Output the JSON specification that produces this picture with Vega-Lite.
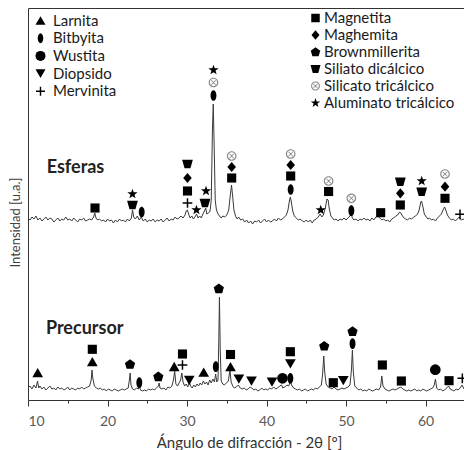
{
  "$schema": "https://vega.github.io/schema/vega-lite/v6.json",
  "autosize": {"type": "none"},
  "width": 436,
  "height": 392,
  "padding": {"left": 28, "top": 8, "right": 0, "bottom": 50},
  "background": "white",
  "config": {"view": {"stroke": null}, "font": "Lato"},
  "datasets": {
    "trace": [
      {"s":"E","a":10.0,"i":182},{"s":"E","a":10.25,"i":180},{"s":"E","a":10.5,"i":183},{"s":"E","a":10.75,"i":181},{"s":"E","a":11.0,"i":184},{"s":"E","a":11.25,"i":180},{"s":"E","a":11.5,"i":182},{"s":"E","a":11.75,"i":179},{"s":"E","a":12.0,"i":181},{"s":"E","a":12.25,"i":183},{"s":"E","a":12.5,"i":180},{"s":"E","a":12.75,"i":182},{"s":"E","a":13.0,"i":181},{"s":"E","a":13.25,"i":178},{"s":"E","a":13.5,"i":180},{"s":"E","a":13.75,"i":182},{"s":"E","a":14.0,"i":179},{"s":"E","a":14.25,"i":181},{"s":"E","a":14.5,"i":180},{"s":"E","a":14.75,"i":183},{"s":"E","a":15.0,"i":180},{"s":"E","a":15.25,"i":181},{"s":"E","a":15.5,"i":179},{"s":"E","a":15.75,"i":182},{"s":"E","a":16.0,"i":180},{"s":"E","a":16.25,"i":178},{"s":"E","a":16.5,"i":181},{"s":"E","a":16.75,"i":180},{"s":"E","a":17.0,"i":182},{"s":"E","a":17.25,"i":179},{"s":"E","a":17.5,"i":180},{"s":"E","a":17.75,"i":181},{"s":"E","a":18.0,"i":180},{"s":"E","a":18.25,"i":183},{"s":"E","a":18.4,"i":187},{"s":"E","a":18.55,"i":182},{"s":"E","a":18.75,"i":180},{"s":"E","a":19.0,"i":181},{"s":"E","a":19.25,"i":179},{"s":"E","a":19.5,"i":180},{"s":"E","a":19.75,"i":178},{"s":"E","a":20.0,"i":181},{"s":"E","a":20.25,"i":179},{"s":"E","a":20.5,"i":180},{"s":"E","a":20.75,"i":177},{"s":"E","a":21.0,"i":180},{"s":"E","a":21.25,"i":178},{"s":"E","a":21.5,"i":181},{"s":"E","a":21.75,"i":179},{"s":"E","a":22.0,"i":180},{"s":"E","a":22.25,"i":178},{"s":"E","a":22.5,"i":181},{"s":"E","a":22.75,"i":179},{"s":"E","a":23.0,"i":182},{"s":"E","a":23.15,"i":190},{"s":"E","a":23.3,"i":183},{"s":"E","a":23.5,"i":181},{"s":"E","a":23.75,"i":184},{"s":"E","a":24.0,"i":180},{"s":"E","a":24.25,"i":183},{"s":"E","a":24.5,"i":179},{"s":"E","a":24.75,"i":181},{"s":"E","a":25.0,"i":178},{"s":"E","a":25.25,"i":180},{"s":"E","a":25.5,"i":179},{"s":"E","a":25.75,"i":181},{"s":"E","a":26.0,"i":178},{"s":"E","a":26.25,"i":180},{"s":"E","a":26.5,"i":179},{"s":"E","a":26.75,"i":181},{"s":"E","a":27.0,"i":178},{"s":"E","a":27.25,"i":180},{"s":"E","a":27.5,"i":182},{"s":"E","a":27.75,"i":179},{"s":"E","a":28.0,"i":181},{"s":"E","a":28.25,"i":180},{"s":"E","a":28.5,"i":183},{"s":"E","a":28.75,"i":181},{"s":"E","a":29.0,"i":182},{"s":"E","a":29.25,"i":184},{"s":"E","a":29.5,"i":182},{"s":"E","a":29.75,"i":185},{"s":"E","a":29.9,"i":189},{"s":"E","a":30.05,"i":190},{"s":"E","a":30.2,"i":186},{"s":"E","a":30.4,"i":182},{"s":"E","a":30.6,"i":184},{"s":"E","a":30.8,"i":181},{"s":"E","a":31.0,"i":183},{"s":"E","a":31.2,"i":186},{"s":"E","a":31.4,"i":182},{"s":"E","a":31.6,"i":184},{"s":"E","a":31.8,"i":182},{"s":"E","a":32.0,"i":186},{"s":"E","a":32.2,"i":189},{"s":"E","a":32.35,"i":192},{"s":"E","a":32.5,"i":186},{"s":"E","a":32.7,"i":187},{"s":"E","a":32.9,"i":189},{"s":"E","a":33.05,"i":200},{"s":"E","a":33.2,"i":270},{"s":"E","a":33.3,"i":296},{"s":"E","a":33.4,"i":260},{"s":"E","a":33.55,"i":200},{"s":"E","a":33.7,"i":190},{"s":"E","a":33.9,"i":186},{"s":"E","a":34.1,"i":184},{"s":"E","a":34.3,"i":182},{"s":"E","a":34.5,"i":184},{"s":"E","a":34.75,"i":183},{"s":"E","a":35.0,"i":185},{"s":"E","a":35.25,"i":190},{"s":"E","a":35.45,"i":205},{"s":"E","a":35.6,"i":215},{"s":"E","a":35.75,"i":203},{"s":"E","a":35.9,"i":190},{"s":"E","a":36.1,"i":184},{"s":"E","a":36.3,"i":181},{"s":"E","a":36.5,"i":183},{"s":"E","a":36.75,"i":180},{"s":"E","a":37.0,"i":181},{"s":"E","a":37.25,"i":178},{"s":"E","a":37.5,"i":180},{"s":"E","a":37.75,"i":177},{"s":"E","a":38.0,"i":179},{"s":"E","a":38.25,"i":176},{"s":"E","a":38.5,"i":179},{"s":"E","a":38.75,"i":178},{"s":"E","a":39.0,"i":180},{"s":"E","a":39.25,"i":177},{"s":"E","a":39.5,"i":179},{"s":"E","a":39.75,"i":181},{"s":"E","a":40.0,"i":178},{"s":"E","a":40.25,"i":180},{"s":"E","a":40.5,"i":178},{"s":"E","a":40.75,"i":179},{"s":"E","a":41.0,"i":181},{"s":"E","a":41.25,"i":179},{"s":"E","a":41.5,"i":182},{"s":"E","a":41.75,"i":180},{"s":"E","a":42.0,"i":181},{"s":"E","a":42.25,"i":183},{"s":"E","a":42.5,"i":185},{"s":"E","a":42.7,"i":190},{"s":"E","a":42.9,"i":200},{"s":"E","a":43.0,"i":203},{"s":"E","a":43.1,"i":199},{"s":"E","a":43.3,"i":189},{"s":"E","a":43.5,"i":184},{"s":"E","a":43.75,"i":182},{"s":"E","a":44.0,"i":180},{"s":"E","a":44.25,"i":181},{"s":"E","a":44.5,"i":179},{"s":"E","a":44.75,"i":178},{"s":"E","a":45.0,"i":180},{"s":"E","a":45.25,"i":178},{"s":"E","a":45.5,"i":180},{"s":"E","a":45.75,"i":177},{"s":"E","a":46.0,"i":180},{"s":"E","a":46.25,"i":181},{"s":"E","a":46.5,"i":183},{"s":"E","a":46.75,"i":186},{"s":"E","a":46.95,"i":183},{"s":"E","a":47.15,"i":185},{"s":"E","a":47.4,"i":192},{"s":"E","a":47.6,"i":201},{"s":"E","a":47.75,"i":200},{"s":"E","a":47.9,"i":191},{"s":"E","a":48.1,"i":184},{"s":"E","a":48.3,"i":182},{"s":"E","a":48.5,"i":180},{"s":"E","a":48.75,"i":181},{"s":"E","a":49.0,"i":179},{"s":"E","a":49.25,"i":181},{"s":"E","a":49.5,"i":180},{"s":"E","a":49.75,"i":182},{"s":"E","a":50.0,"i":180},{"s":"E","a":50.25,"i":182},{"s":"E","a":50.5,"i":184},{"s":"E","a":50.65,"i":186},{"s":"E","a":50.8,"i":182},{"s":"E","a":51.0,"i":180},{"s":"E","a":51.25,"i":181},{"s":"E","a":51.5,"i":179},{"s":"E","a":51.75,"i":181},{"s":"E","a":52.0,"i":180},{"s":"E","a":52.25,"i":182},{"s":"E","a":52.5,"i":180},{"s":"E","a":52.75,"i":181},{"s":"E","a":53.0,"i":179},{"s":"E","a":53.25,"i":182},{"s":"E","a":53.5,"i":180},{"s":"E","a":53.75,"i":183},{"s":"E","a":54.0,"i":184},{"s":"E","a":54.25,"i":182},{"s":"E","a":54.5,"i":180},{"s":"E","a":54.75,"i":181},{"s":"E","a":55.0,"i":179},{"s":"E","a":55.25,"i":180},{"s":"E","a":55.5,"i":178},{"s":"E","a":55.75,"i":181},{"s":"E","a":56.0,"i":182},{"s":"E","a":56.25,"i":184},{"s":"E","a":56.5,"i":185},{"s":"E","a":56.75,"i":188},{"s":"E","a":56.9,"i":187},{"s":"E","a":57.1,"i":184},{"s":"E","a":57.3,"i":182},{"s":"E","a":57.5,"i":181},{"s":"E","a":57.75,"i":180},{"s":"E","a":58.0,"i":182},{"s":"E","a":58.25,"i":181},{"s":"E","a":58.5,"i":183},{"s":"E","a":58.75,"i":184},{"s":"E","a":59.0,"i":186},{"s":"E","a":59.2,"i":190},{"s":"E","a":59.4,"i":198},{"s":"E","a":59.5,"i":199},{"s":"E","a":59.65,"i":194},{"s":"E","a":59.85,"i":186},{"s":"E","a":60.1,"i":183},{"s":"E","a":60.3,"i":181},{"s":"E","a":60.5,"i":182},{"s":"E","a":60.75,"i":180},{"s":"E","a":61.0,"i":181},{"s":"E","a":61.25,"i":179},{"s":"E","a":61.5,"i":182},{"s":"E","a":61.75,"i":184},{"s":"E","a":62.0,"i":186},{"s":"E","a":62.2,"i":190},{"s":"E","a":62.4,"i":193},{"s":"E","a":62.55,"i":190},{"s":"E","a":62.75,"i":185},{"s":"E","a":63.0,"i":182},{"s":"E","a":63.25,"i":180},{"s":"E","a":63.5,"i":181},{"s":"E","a":63.75,"i":179},{"s":"E","a":64.0,"i":181},{"s":"E","a":64.25,"i":183},{"s":"E","a":64.5,"i":180},{"s":"E","a":64.84,"i":181},
      {"s":"P","a":10.0,"i":12},{"s":"P","a":10.25,"i":14},{"s":"P","a":10.5,"i":11},{"s":"P","a":10.75,"i":15},{"s":"P","a":11.0,"i":12},{"s":"P","a":11.2,"i":19},{"s":"P","a":11.35,"i":12},{"s":"P","a":11.5,"i":14},{"s":"P","a":11.75,"i":11},{"s":"P","a":12.0,"i":13},{"s":"P","a":12.25,"i":10},{"s":"P","a":12.5,"i":12},{"s":"P","a":12.75,"i":14},{"s":"P","a":13.0,"i":11},{"s":"P","a":13.25,"i":12},{"s":"P","a":13.5,"i":10},{"s":"P","a":13.75,"i":13},{"s":"P","a":14.0,"i":11},{"s":"P","a":14.25,"i":12},{"s":"P","a":14.5,"i":10},{"s":"P","a":14.75,"i":11},{"s":"P","a":15.0,"i":13},{"s":"P","a":15.25,"i":10},{"s":"P","a":15.5,"i":12},{"s":"P","a":15.75,"i":11},{"s":"P","a":16.0,"i":10},{"s":"P","a":16.25,"i":12},{"s":"P","a":16.5,"i":11},{"s":"P","a":16.75,"i":13},{"s":"P","a":17.0,"i":11},{"s":"P","a":17.25,"i":12},{"s":"P","a":17.5,"i":13},{"s":"P","a":17.75,"i":14},{"s":"P","a":17.95,"i":20},{"s":"P","a":18.05,"i":30},{"s":"P","a":18.15,"i":22},{"s":"P","a":18.35,"i":14},{"s":"P","a":18.6,"i":12},{"s":"P","a":18.85,"i":11},{"s":"P","a":19.1,"i":12},{"s":"P","a":19.35,"i":10},{"s":"P","a":19.6,"i":11},{"s":"P","a":19.85,"i":9},{"s":"P","a":20.1,"i":11},{"s":"P","a":20.35,"i":10},{"s":"P","a":20.6,"i":9},{"s":"P","a":20.85,"i":11},{"s":"P","a":21.1,"i":10},{"s":"P","a":21.35,"i":9},{"s":"P","a":21.6,"i":10},{"s":"P","a":21.85,"i":11},{"s":"P","a":22.1,"i":10},{"s":"P","a":22.35,"i":11},{"s":"P","a":22.6,"i":12},{"s":"P","a":22.75,"i":20},{"s":"P","a":22.85,"i":27},{"s":"P","a":22.95,"i":15},{"s":"P","a":23.15,"i":11},{"s":"P","a":23.4,"i":10},{"s":"P","a":23.65,"i":12},{"s":"P","a":23.9,"i":11},{"s":"P","a":24.0,"i":14},{"s":"P","a":24.15,"i":10},{"s":"P","a":24.4,"i":9},{"s":"P","a":24.65,"i":10},{"s":"P","a":24.9,"i":9},{"s":"P","a":25.15,"i":11},{"s":"P","a":25.4,"i":10},{"s":"P","a":25.65,"i":11},{"s":"P","a":25.9,"i":10},{"s":"P","a":26.15,"i":12},{"s":"P","a":26.4,"i":14},{"s":"P","a":26.5,"i":17},{"s":"P","a":26.6,"i":12},{"s":"P","a":26.85,"i":11},{"s":"P","a":27.1,"i":12},{"s":"P","a":27.35,"i":10},{"s":"P","a":27.6,"i":13},{"s":"P","a":27.85,"i":12},{"s":"P","a":28.1,"i":14},{"s":"P","a":28.3,"i":20},{"s":"P","a":28.45,"i":29},{"s":"P","a":28.6,"i":16},{"s":"P","a":28.8,"i":14},{"s":"P","a":29.0,"i":17},{"s":"P","a":29.2,"i":20},{"s":"P","a":29.35,"i":27},{"s":"P","a":29.5,"i":18},{"s":"P","a":29.7,"i":14},{"s":"P","a":29.9,"i":16},{"s":"P","a":30.1,"i":13},{"s":"P","a":30.3,"i":18},{"s":"P","a":30.45,"i":14},{"s":"P","a":30.65,"i":12},{"s":"P","a":30.85,"i":15},{"s":"P","a":31.05,"i":13},{"s":"P","a":31.25,"i":16},{"s":"P","a":31.45,"i":14},{"s":"P","a":31.65,"i":17},{"s":"P","a":31.85,"i":15},{"s":"P","a":32.05,"i":19},{"s":"P","a":32.25,"i":16},{"s":"P","a":32.45,"i":18},{"s":"P","a":32.65,"i":15},{"s":"P","a":32.85,"i":20},{"s":"P","a":33.05,"i":17},{"s":"P","a":33.25,"i":21},{"s":"P","a":33.45,"i":18},{"s":"P","a":33.6,"i":26},{"s":"P","a":33.75,"i":18},{"s":"P","a":33.9,"i":20},{"s":"P","a":34.0,"i":60},{"s":"P","a":34.08,"i":103},{"s":"P","a":34.18,"i":50},{"s":"P","a":34.3,"i":19},{"s":"P","a":34.5,"i":16},{"s":"P","a":34.7,"i":15},{"s":"P","a":34.95,"i":17},{"s":"P","a":35.2,"i":19},{"s":"P","a":35.4,"i":30},{"s":"P","a":35.55,"i":18},{"s":"P","a":35.75,"i":14},{"s":"P","a":35.95,"i":12},{"s":"P","a":36.2,"i":13},{"s":"P","a":36.45,"i":15},{"s":"P","a":36.7,"i":12},{"s":"P","a":36.95,"i":11},{"s":"P","a":37.2,"i":12},{"s":"P","a":37.45,"i":10},{"s":"P","a":37.7,"i":11},{"s":"P","a":37.95,"i":13},{"s":"P","a":38.15,"i":12},{"s":"P","a":38.4,"i":10},{"s":"P","a":38.65,"i":11},{"s":"P","a":38.9,"i":9},{"s":"P","a":39.15,"i":10},{"s":"P","a":39.4,"i":12},{"s":"P","a":39.65,"i":10},{"s":"P","a":39.9,"i":11},{"s":"P","a":40.15,"i":10},{"s":"P","a":40.4,"i":12},{"s":"P","a":40.65,"i":11},{"s":"P","a":40.9,"i":13},{"s":"P","a":41.15,"i":11},{"s":"P","a":41.4,"i":12},{"s":"P","a":41.65,"i":14},{"s":"P","a":41.9,"i":15},{"s":"P","a":42.05,"i":12},{"s":"P","a":42.3,"i":13},{"s":"P","a":42.55,"i":15},{"s":"P","a":42.8,"i":14},{"s":"P","a":43.0,"i":19},{"s":"P","a":43.15,"i":15},{"s":"P","a":43.4,"i":12},{"s":"P","a":43.65,"i":11},{"s":"P","a":43.9,"i":10},{"s":"P","a":44.15,"i":11},{"s":"P","a":44.4,"i":9},{"s":"P","a":44.65,"i":10},{"s":"P","a":44.9,"i":11},{"s":"P","a":45.15,"i":9},{"s":"P","a":45.4,"i":10},{"s":"P","a":45.65,"i":11},{"s":"P","a":45.9,"i":10},{"s":"P","a":46.15,"i":12},{"s":"P","a":46.4,"i":11},{"s":"P","a":46.65,"i":13},{"s":"P","a":46.9,"i":15},{"s":"P","a":47.05,"i":25},{"s":"P","a":47.2,"i":44},{"s":"P","a":47.32,"i":28},{"s":"P","a":47.5,"i":16},{"s":"P","a":47.75,"i":13},{"s":"P","a":48.0,"i":12},{"s":"P","a":48.25,"i":11},{"s":"P","a":48.5,"i":13},{"s":"P","a":48.75,"i":11},{"s":"P","a":49.0,"i":10},{"s":"P","a":49.25,"i":11},{"s":"P","a":49.5,"i":12},{"s":"P","a":49.75,"i":11},{"s":"P","a":50.0,"i":12},{"s":"P","a":50.25,"i":13},{"s":"P","a":50.5,"i":15},{"s":"P","a":50.68,"i":30},{"s":"P","a":50.8,"i":50},{"s":"P","a":50.92,"i":28},{"s":"P","a":51.1,"i":14},{"s":"P","a":51.35,"i":12},{"s":"P","a":51.6,"i":10},{"s":"P","a":51.85,"i":11},{"s":"P","a":52.1,"i":9},{"s":"P","a":52.35,"i":10},{"s":"P","a":52.6,"i":9},{"s":"P","a":52.85,"i":11},{"s":"P","a":53.1,"i":10},{"s":"P","a":53.35,"i":9},{"s":"P","a":53.6,"i":10},{"s":"P","a":53.85,"i":11},{"s":"P","a":54.1,"i":10},{"s":"P","a":54.35,"i":13},{"s":"P","a":54.5,"i":24},{"s":"P","a":54.65,"i":14},{"s":"P","a":54.9,"i":11},{"s":"P","a":55.15,"i":10},{"s":"P","a":55.4,"i":9},{"s":"P","a":55.65,"i":10},{"s":"P","a":55.9,"i":11},{"s":"P","a":56.15,"i":10},{"s":"P","a":56.4,"i":11},{"s":"P","a":56.65,"i":12},{"s":"P","a":56.9,"i":13},{"s":"P","a":57.15,"i":11},{"s":"P","a":57.4,"i":10},{"s":"P","a":57.65,"i":9},{"s":"P","a":57.9,"i":10},{"s":"P","a":58.15,"i":9},{"s":"P","a":58.4,"i":10},{"s":"P","a":58.65,"i":11},{"s":"P","a":58.9,"i":9},{"s":"P","a":59.15,"i":10},{"s":"P","a":59.4,"i":9},{"s":"P","a":59.65,"i":11},{"s":"P","a":59.9,"i":10},{"s":"P","a":60.15,"i":9},{"s":"P","a":60.4,"i":10},{"s":"P","a":60.65,"i":11},{"s":"P","a":60.9,"i":12},{"s":"P","a":61.1,"i":15},{"s":"P","a":61.25,"i":21},{"s":"P","a":61.4,"i":12},{"s":"P","a":61.65,"i":10},{"s":"P","a":61.9,"i":11},{"s":"P","a":62.15,"i":9},{"s":"P","a":62.4,"i":10},{"s":"P","a":62.65,"i":12},{"s":"P","a":62.9,"i":14},{"s":"P","a":63.1,"i":11},{"s":"P","a":63.35,"i":10},{"s":"P","a":63.6,"i":9},{"s":"P","a":63.85,"i":11},{"s":"P","a":64.1,"i":10},{"s":"P","a":64.35,"i":12},{"s":"P","a":64.6,"i":15},{"s":"P","a":64.84,"i":11}
    ],
    "markA": [
      {"m":"Bitbyita","a":24.3,"i":188},
      {"m":"Mervinita","a":30.06,"i":197},
      {"m":"Bitbyita","a":33.33,"i":304.5},
      {"m":"Bitbyita","a":43.04,"i":210.5},
      {"m":"Bitbyita","a":50.67,"i":189.3},
      {"m":"Mervinita","a":64.34,"i":185.7},
      {"m":"Larnita","a":11.22,"i":27.3},
      {"m":"Larnita","a":18.09,"i":38.3},
      {"m":"Bitbyita","a":24.0,"i":17.3},
      {"m":"Larnita","a":28.39,"i":33.5},
      {"m":"Mervinita","a":29.43,"i":35},
      {"m":"Diopsido","a":30.28,"i":19.7},
      {"m":"Larnita","a":32.1,"i":27.8},
      {"m":"Bitbyita","a":33.62,"i":33.3},
      {"m":"Larnita","a":35.47,"i":33.3},
      {"m":"Diopsido","a":36.52,"i":20.8},
      {"m":"Diopsido","a":38.11,"i":18.8},
      {"m":"Diopsido","a":40.69,"i":17.8},
      {"m":"Wustita","a":42.01,"i":21.7},
      {"m":"Bitbyita","a":43.0,"i":21.7},
      {"m":"Diopsido","a":43.0,"i":36.2},
      {"m":"Diopsido","a":49.66,"i":19.3},
      {"m":"Bitbyita","a":50.82,"i":56.3},
      {"m":"Wustita","a":61.23,"i":30.3},
      {"m":"Mervinita","a":64.63,"i":21.7}
    ],
    "markB": [
      {"m":"Magnetita","a":18.43,"i":192},
      {"m":"Aluminato tricálcico","a":23.14,"i":206},
      {"m":"Siliato dicálcico","a":23.14,"i":195},
      {"m":"Siliato dicálcico","a":30.06,"i":236},
      {"m":"Maghemita","a":30.06,"i":222},
      {"m":"Magnetita","a":30.06,"i":209},
      {"m":"Aluminato tricálcico","a":31.19,"i":190},
      {"m":"Aluminato tricálcico","a":32.39,"i":209},
      {"m":"Siliato dicálcico","a":32.26,"i":197},
      {"m":"Silicato tricálcico","a":33.33,"i":317.5},
      {"m":"Aluminato tricálcico","a":33.33,"i":330},
      {"m":"Silicato tricálcico","a":35.62,"i":244},
      {"m":"Maghemita","a":35.62,"i":233},
      {"m":"Magnetita","a":35.62,"i":222},
      {"m":"Silicato tricálcico","a":43.04,"i":246},
      {"m":"Maghemita","a":43.04,"i":235},
      {"m":"Magnetita","a":43.04,"i":224},
      {"m":"Aluminato tricálcico","a":46.82,"i":190},
      {"m":"Silicato tricálcico","a":47.81,"i":219},
      {"m":"Magnetita","a":47.81,"i":208.5},
      {"m":"Silicato tricálcico","a":50.67,"i":201.7},
      {"m":"Magnetita","a":54.36,"i":187.3},
      {"m":"Siliato dicálcico","a":56.83,"i":218.3},
      {"m":"Maghemita","a":56.83,"i":206.7},
      {"m":"Magnetita","a":56.83,"i":195},
      {"m":"Aluminato tricálcico","a":59.52,"i":219},
      {"m":"Siliato dicálcico","a":59.52,"i":208.3},
      {"m":"Silicato tricálcico","a":62.45,"i":226},
      {"m":"Maghemita","a":62.45,"i":213.3},
      {"m":"Magnetita","a":62.45,"i":201.7},
      {"m":"Magnetita","a":18.09,"i":50.7},
      {"m":"Brownmillerita","a":22.83,"i":35.7},
      {"m":"Brownmillerita","a":26.39,"i":23.3},
      {"m":"Magnetita","a":29.43,"i":46},
      {"m":"Brownmillerita","a":34.0,"i":111.3},
      {"m":"Magnetita","a":35.47,"i":45.5},
      {"m":"Magnetita","a":43.0,"i":48.3},
      {"m":"Brownmillerita","a":47.26,"i":54},
      {"m":"Magnetita","a":48.4,"i":17.3},
      {"m":"Brownmillerita","a":50.82,"i":68.6},
      {"m":"Magnetita","a":54.57,"i":35},
      {"m":"Magnetita","a":56.96,"i":19},
      {"m":"Magnetita","a":62.96,"i":19.3}
    ],
    "labels": [
      {"t":"Esferas","a":12.35,"i":232},
      {"t":"Precursor","a":12.25,"i":70.8}
    ]
  },
  "layer": [
    {
      "data": {"name": "trace"},
      "mark": {"type": "line", "color": "#3a3a3a", "strokeWidth": 1, "interpolate": "linear"},
      "encoding": {
        "x": {"field": "a", "type": "quantitative", "scale": {"domain": [10, 64.84], "nice": false, "zero": false},
          "axis": {"orient": "bottom", "values": [10, 20, 30, 40, 50, 60], "grid": false, "tickSize": 6, "tickColor": "#333", "domainColor": "#333", "labelFontSize": 14, "labelColor": "#595959", "labelPadding": 8, "labelFont": "Lato", "title": "Ángulo de difracción - 2θ [°]", "titleFont": "Lato", "titleFontSize": 15, "titleFontWeight": "normal", "titleColor": "#333", "titleBaseline": "middle", "titleY": 42, "titleX": 221}},
        "y": {"field": "i", "type": "quantitative", "scale": {"domain": [0, 392], "nice": false, "zero": false},
          "axis": {"title": "Intensidad [u.a.]", "titleFont": "Lato", "titleFontSize": 13, "titleFontWeight": "normal", "titleColor": "#404040", "titleBaseline": "middle", "titleX": -13, "titleY": 214, "labels": false, "ticks": false, "grid": false, "domainColor": "#333"}},
        "detail": {"field": "s"}
      }
    },
    {
      "data": {"name": "markA"},
      "mark": {"type": "point", "filled": true, "size": 115, "opacity": 1},
      "encoding": {
        "x": {"field": "a", "type": "quantitative", "axis": {"orient": "bottom", "values": [15, 25, 35, 45, 55], "labels": false, "domain": false, "grid": false, "tickSize": 3, "tickColor": "#333", "title": null}},
        "y": {"field": "i", "type": "quantitative", "axis": {"title": "Intensidad [u.a.]", "titleFont": "Lato", "titleFontSize": 13, "titleFontWeight": "normal", "titleColor": "#404040", "titleBaseline": "middle", "titleX": -13, "titleY": 214, "labels": false, "ticks": false, "grid": false, "domainColor": "#333"}},
        "shape": {"field": "m", "type": "nominal",
          "scale": {"domain": ["Larnita", "Bitbyita", "Wustita", "Diopsido", "Mervinita"],
            "range": ["triangle-up", "M0,-1C0.3,-1 0.55,-0.55 0.55,0C0.55,0.55 0.3,1 0,1C-0.3,1 -0.55,0.55 -0.55,0C-0.55,-0.55 -0.3,-1 0,-1Z", "circle", "triangle-down", "M-0.14,-0.9H0.14V-0.14H0.9V0.14H0.14V0.9H-0.14V0.14H-0.9V-0.14H-0.14Z"]},
          "legend": {"title": null, "orient": "none", "legendX": 5, "legendY": 5, "padding": 0, "labelFont": "Lato", "labelFontSize": 15, "labelColor": "#1a1a1a", "symbolSize": 100, "rowPadding": 1.7, "labelOffset": 5, "symbolStrokeWidth": 0}},
        "fill": {"field": "m", "type": "nominal",
          "scale": {"domain": ["Larnita", "Bitbyita", "Wustita", "Diopsido", "Mervinita"], "range": ["#000", "#000", "#000", "#000", "#000"]},
          "legend": {"title": null, "orient": "none", "legendX": 5, "legendY": 5, "padding": 0, "labelFont": "Lato", "labelFontSize": 15, "labelColor": "#1a1a1a", "symbolSize": 100, "rowPadding": 1.7, "labelOffset": 5, "symbolStrokeWidth": 0}}
      }
    },
    {
      "data": {"name": "markB"},
      "mark": {"type": "point", "filled": true, "size": 115, "opacity": 1},
      "encoding": {
        "x": {"field": "a", "type": "quantitative", "axis": {"orient": "top", "labels": false, "ticks": false, "grid": false, "domainColor": "#333", "title": null}},
        "y": {"field": "i", "type": "quantitative", "axis": {"title": "Intensidad [u.a.]", "titleFont": "Lato", "titleFontSize": 13, "titleFontWeight": "normal", "titleColor": "#404040", "titleBaseline": "middle", "titleX": -13, "titleY": 214, "labels": false, "ticks": false, "grid": false, "domainColor": "#333"}},
        "shape": {"field": "m", "type": "nominal",
          "scale": {"domain": ["Magnetita", "Maghemita", "Brownmillerita", "Siliato dicálcico", "Silicato tricálcico", "Aluminato tricálcico"],
            "range": ["M-0.85,-0.85H0.85V0.85H-0.85Z", "M0,-0.95L0.8,0L0,0.95L-0.8,0Z", "M0,-0.95L0.95,-0.25L0.62,0.85L-0.62,0.85L-0.95,-0.25Z", "M-1,-0.8L1,-0.8L0.55,0.8L-0.55,0.8Z", "M0.9,0C0.9,0.5 0.5,0.9 0,0.9C-0.5,0.9 -0.9,0.5 -0.9,0C-0.9,-0.5 -0.5,-0.9 0,-0.9C0.5,-0.9 0.9,-0.5 0.9,0ZM0.68,0C0.68,-0.375 0.375,-0.68 0,-0.68C-0.375,-0.68 -0.68,-0.375 -0.68,0C-0.68,0.375 -0.375,0.68 0,0.68C0.375,0.68 0.68,0.375 0.68,0ZM-0.36,-0.47L0.47,0.36L0.36,0.47L-0.47,-0.36ZM0.47,-0.36L-0.36,0.47L-0.47,0.36L0.36,-0.47Z", "M0,-1L0.235,-0.324L0.951,-0.309L0.38,0.124L0.588,0.809L0,0.4L-0.588,0.809L-0.38,0.124L-0.951,-0.309L-0.235,-0.324Z"]},
          "legend": {"title": null, "orient": "none", "legendX": 280, "legendY": 2.5, "padding": 0, "labelFont": "Lato", "labelFontSize": 15, "labelColor": "#1a1a1a", "symbolSize": 100, "rowPadding": 1, "labelOffset": 1, "symbolStrokeWidth": 0}},
        "fill": {"field": "m", "type": "nominal",
          "scale": {"domain": ["Magnetita", "Maghemita", "Brownmillerita", "Siliato dicálcico", "Silicato tricálcico", "Aluminato tricálcico"], "range": ["#000", "#000", "#000", "#000", "#8a8a8a", "#000"]},
          "legend": {"title": null, "orient": "none", "legendX": 280, "legendY": 2.5, "padding": 0, "labelFont": "Lato", "labelFontSize": 15, "labelColor": "#1a1a1a", "symbolSize": 100, "rowPadding": 1, "labelOffset": 1, "symbolStrokeWidth": 0}}
      }
    },
    {
      "data": {"name": "labels"},
      "mark": {"type": "text", "font": "Lato", "fontSize": 18, "fontWeight": "bold", "align": "left", "baseline": "middle", "color": "#222"},
      "encoding": {
        "x": {"field": "a", "type": "quantitative", "axis": null},
        "y": {"field": "i", "type": "quantitative", "axis": {"title": "Intensidad [u.a.]", "titleFont": "Lato", "titleFontSize": 13, "titleFontWeight": "normal", "titleColor": "#404040", "titleBaseline": "middle", "titleX": -13, "titleY": 214, "labels": false, "ticks": false, "grid": false, "domainColor": "#333"}},
        "text": {"field": "t"}
      }
    }
  ],
  "resolve": {
    "scale": {"shape": "independent", "fill": "independent"},
    "legend": {"shape": "independent", "fill": "independent"},
    "axis": {"x": "independent"}
  }
}
